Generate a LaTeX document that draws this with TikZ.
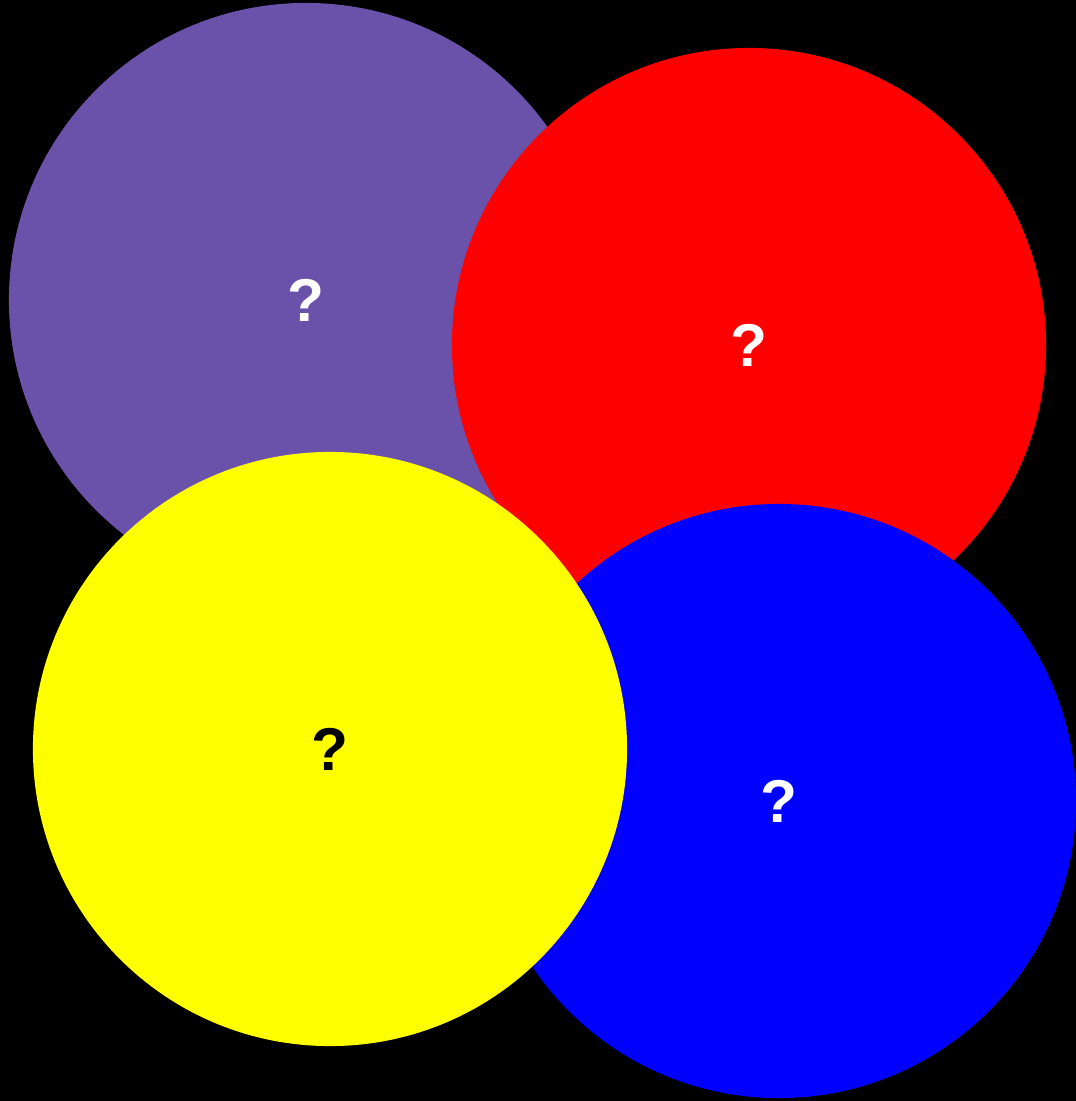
\documentclass[tikz,border=0pt]{standalone}
\usepackage{fontspec}
\setmainfont{Liberation Sans}
\definecolor{blobpurple}{RGB}{106,82,170}
\definecolor{blobred}{RGB}{255,0,0}
\definecolor{blobyellow}{RGB}{255,255,0}
\definecolor{blobblue}{RGB}{0,0,255}
\usetikzlibrary{positioning}
\begin{document}
\begin{tikzpicture}[
  x=0.025cm,y=-0.025cm,
  blob/.style={circle,minimum size=14.85cm,inner sep=0pt,
    font=\fontsize{43}{43}\selectfont\bfseries}
]
  % background
  \fill[black] (0,0) rectangle (1076,1101);
  \useasboundingbox (0,0) rectangle (1076,1101);

  % circles, back to front
  \node[blob,fill=blobpurple,text=white] (purple) at (306,300) {?};
  \node[blob,fill=blobred,text=white] (red) at (749,345) {?};
  \node[blob,fill=blobblue,text=white] (blue) at (779,801) {?};
  \node[blob,fill=blobyellow,text=black] (yellow) at (330,749) {?};
\end{tikzpicture}
\end{document}
